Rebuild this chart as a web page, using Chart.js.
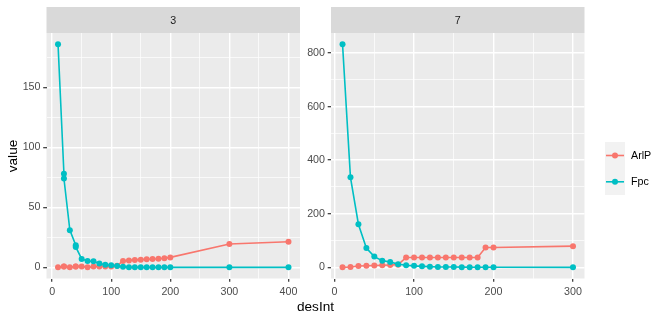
<!DOCTYPE html>
<html><head><meta charset="utf-8">
<script src="https://cdn.jsdelivr.net/npm/chart.js@4/dist/chart.umd.min.js"></script>
<style>
html,body{margin:0;padding:0;background:#fff;}
#wrap{position:relative;width:664px;height:327px;overflow:hidden;font-family:'Liberation Sans',Arial,sans-serif;}
canvas{position:absolute;left:0;top:0;}
.title{position:absolute;color:#000;font-size:13.6px;line-height:16px;text-align:center;white-space:nowrap;}
</style></head><body>
<div id="wrap">
<canvas id="c1" width="664" height="327"></canvas>
<canvas id="c2" width="664" height="327"></canvas>
<div class="title" style="left:215.5px;width:200px;top:299px;">desInt</div>
<div class="title" style="left:-37px;width:100px;top:148px;transform:rotate(-90deg);">value</div>
</div>
<script>
// ---- data ----
const facets = ['3', '7'];
const seriesNames = ['ArlP', 'Fpc'];
const seriesColors = ['#F8766D', '#00BFC4'];

const desInt3 = [10, 20, 20, 30, 40, 40, 50, 60, 70, 80, 90, 100, 110, 120, 130, 140, 150, 160, 170, 180, 190, 200, 300, 400];
const arlp3   = [0, 0.8, 0.8, 0, 0.8, 0.8, 0.8, 0, 0.6, 0.8, 0.8, 0.8, 1.4, 5.3, 5.8, 6.2, 6.4, 6.7, 6.9, 7.1, 7.6, 8.3, 19.5, 21.3];
const fpc3    = [186, 78, 74, 31, 18.5, 17, 7, 5.3, 5, 3.2, 2.2, 1.8, 1.2, 0.4, 0, 0, 0, 0, 0, 0, 0, 0, 0, 0];

const desInt7 = [10, 20, 30, 40, 50, 60, 70, 80, 90, 100, 110, 120, 130, 140, 150, 160, 170, 180, 190, 200, 300];
const arlp7   = [0, 1, 5, 6, 7, 8, 9, 10, 37, 37, 37, 37, 37, 37, 37, 37, 37, 37, 74, 74, 79];
const fpc7    = [833, 336, 161, 72, 40, 25, 20, 12, 8, 5.5, 3.7, 2.5, 1.5, 1, 1, 0.8, 0.5, 0.5, 0.3, 0.2, 0];

const xTicks3 = [0, 100, 200, 300, 400];
const yTicks3 = [0, 50, 100, 150];
const xTicks7 = [0, 100, 200, 300];
const yTicks7 = [0, 200, 400, 600, 800];

// ---- helpers ----
const FONT = "'Liberation Sans', Arial, sans-serif";
function expand(vals) {
  const mn = Math.min(...vals), mx = Math.max(...vals), d = (mx - mn) * 0.05;
  return [mn - d, mx + d];
}
function withMinors(major, lo, hi) {
  const step = major[1] - major[0];
  const out = [];
  for (let v = major[0] - step; v <= hi + 1e-9; v += step / 2) {
    if (v >= lo) out.push(Math.round(v * 1000) / 1000);
  }
  return out;
}

const bgPlugin = {
  id: 'bg',
  beforeDraw(chart, args, opts) {
    const a = chart.chartArea, ctx = chart.ctx;
    ctx.save();
    ctx.fillStyle = '#EBEBEB';
    ctx.fillRect(a.left, a.top, a.right - a.left, a.bottom - a.top);
    ctx.fillStyle = '#D9D9D9';
    ctx.fillRect(a.left, 7, a.right - a.left, a.top - 7);
    ctx.fillStyle = '#1A1A1A';
    ctx.font = '10.7px ' + FONT;
    ctx.textAlign = 'center';
    ctx.textBaseline = 'middle';
    ctx.fillText(opts.facet, (a.left + a.right) / 2, (7 + a.top) / 2 + 1);
    ctx.restore();
  }
};

const legendPlugin = {
  id: 'lg',
  afterDraw(chart, args, opts) {
    if (!opts.show) return;
    const ctx = chart.ctx;
    ctx.save();
    ctx.fillStyle = '#F2F2F2';
    ctx.fillRect(605, 142, 20, 53);
    chart.data.datasets.forEach((ds, i) => {
      const cy = 155.5 + i * 26.3;
      ctx.strokeStyle = ds.borderColor;
      ctx.lineWidth = 1.6;
      ctx.beginPath(); ctx.moveTo(606, cy); ctx.lineTo(624, cy); ctx.stroke();
      ctx.fillStyle = ds.backgroundColor;
      ctx.beginPath(); ctx.arc(615, cy, 3, 0, Math.PI * 2); ctx.fill();
      ctx.fillStyle = '#000';
      ctx.font = '10.7px ' + FONT;
      ctx.textAlign = 'left';
      ctx.textBaseline = 'middle';
      ctx.fillText(ds.label, 631, cy + 0.5);
    });
    ctx.restore();
  }
};

function makeChart(id, facet, xs, arl, fpc, xMaj, yMaj, padLeft, yAxisW, padRight, showLegend) {
  const [xmin, xmax] = expand(xs);
  const [ymin, ymax] = expand(arl.concat(fpc));
  const xAll = withMinors(xMaj, xmin, xmax);
  const yAll = withMinors(yMaj, ymin, ymax);
  const gridFor = (maj) => ({
    color: '#FFFFFF',
    lineWidth: c => maj.includes(c.tick && c.tick.value) ? 1.4 : 0.7,
    tickLength: 3.3,
    tickWidth: 1.2,
    tickColor: c => maj.includes(c.tick && c.tick.value) ? '#333333' : 'rgba(0,0,0,0)',
    drawOnChartArea: true,
    drawTicks: true
  });
  const tickFont = { family: FONT, size: 10.7 };
  const mk = (arr, vals) => arr.map((x, i) => ({ x: x, y: vals[i] }));
  return new Chart(document.getElementById(id), {
    type: 'line',
    data: {
      datasets: [
        { label: seriesNames[0], data: mk(xs, arl), borderColor: seriesColors[0], backgroundColor: seriesColors[0], order: 1 },
        { label: seriesNames[1], data: mk(xs, fpc), borderColor: seriesColors[1], backgroundColor: seriesColors[1], order: 0 }
      ]
    },
    options: {
      responsive: false,
      animation: false,
      devicePixelRatio: 1,
      layout: { padding: { top: 33, left: padLeft, right: padRight, bottom: 0 } },
      plugins: { legend: { display: false }, tooltip: { enabled: false }, bg: { facet: facet }, lg: { show: showLegend } },
      elements: {
        line: { borderWidth: 1.6, tension: 0, fill: false },
        point: { radius: 3, borderWidth: 0, hoverRadius: 3 }
      },
      scales: {
        x: {
          type: 'linear', min: xmin, max: xmax,
          afterBuildTicks: a => { a.ticks = xAll.map(v => ({ value: v })); },
          afterFit: s => { s.height = 327 - 278.5; },
          ticks: { callback: v => xMaj.includes(v) ? String(v) : '', autoSkip: false, maxRotation: 0, color: '#4D4D4D', font: tickFont, padding: 3.5 },
          grid: gridFor(xMaj),
          border: { display: false }
        },
        y: {
          type: 'linear', min: ymin, max: ymax,
          afterBuildTicks: a => { a.ticks = yAll.map(v => ({ value: v })); },
          afterFit: s => { s.width = yAxisW; },
          ticks: { callback: v => yMaj.includes(v) ? String(v) : '', autoSkip: false, color: '#4D4D4D', font: tickFont, padding: 2.7 },
          grid: gridFor(yMaj),
          border: { display: false }
        }
      }
    },
    plugins: [bgPlugin, legendPlugin]
  });
}

makeChart('c1', facets[0], desInt3, arlp3, fpc3, xTicks3, yTicks3, 0, 46.5, 664 - 300, false);
makeChart('c2', facets[1], desInt7, arlp7, fpc7, xTicks7, yTicks7, 300, 31, 664 - 584.5, true);
</script>
</body></html>
